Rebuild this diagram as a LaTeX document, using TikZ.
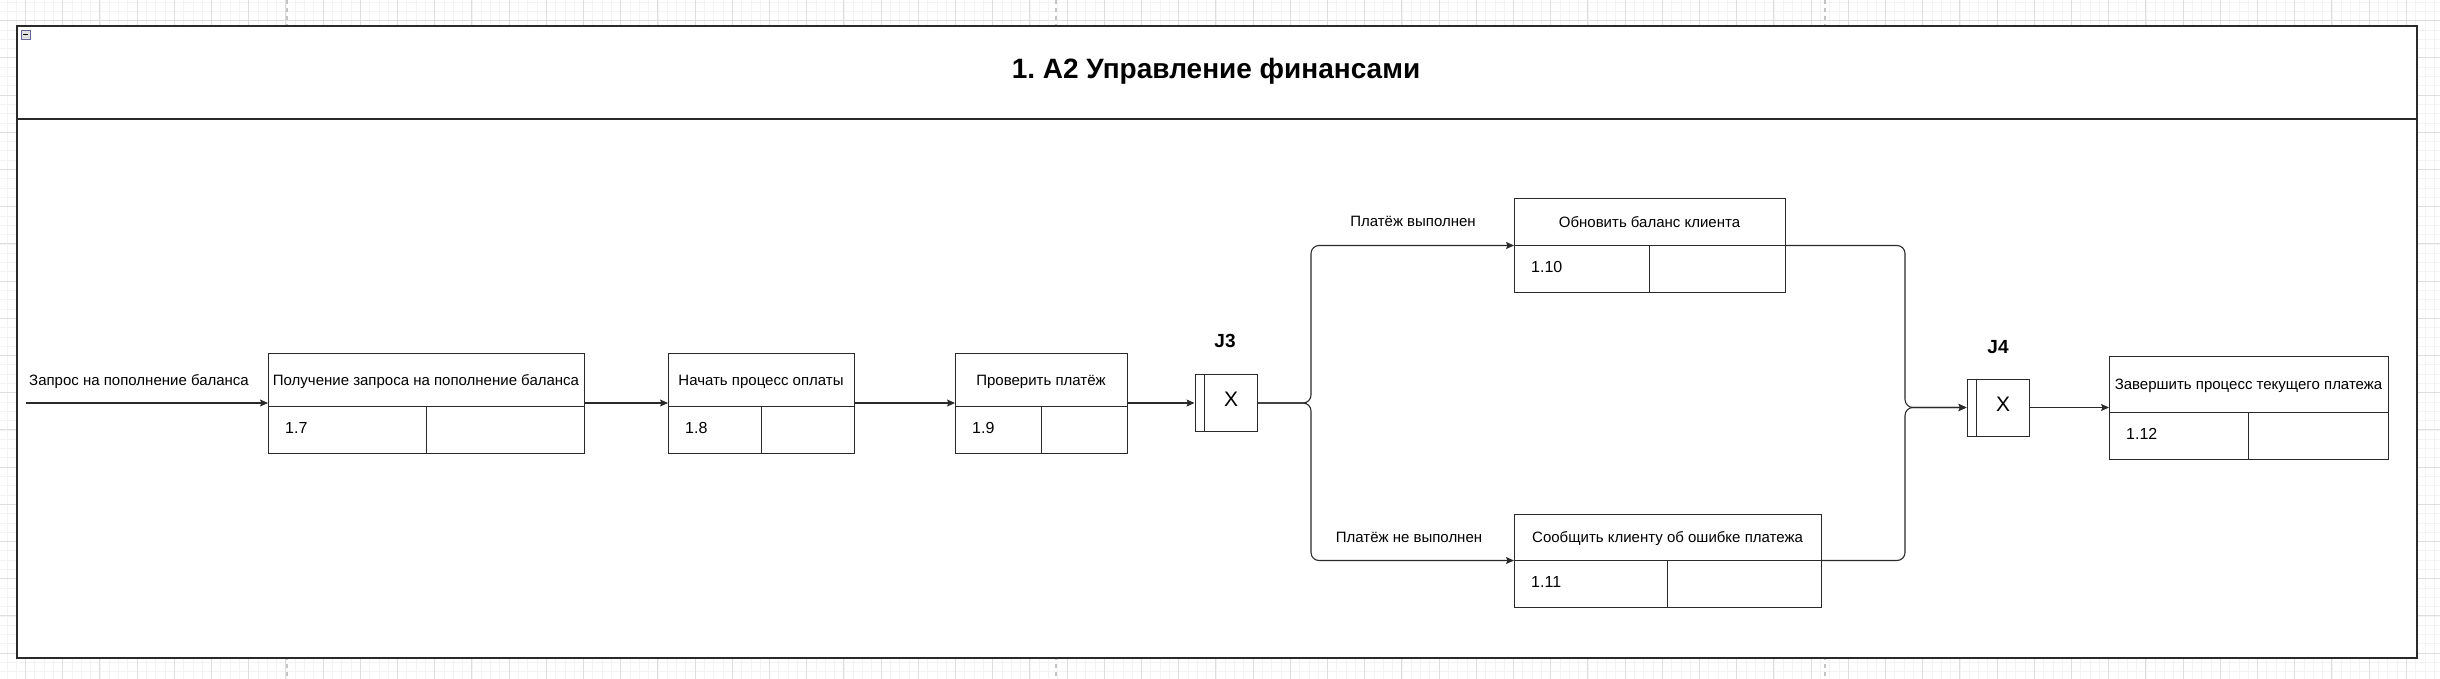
\documentclass[tikz,border=0pt]{standalone}
\usepackage{fontspec}
\setmainfont{Liberation Sans}
\usetikzlibrary{arrows.meta}
\definecolor{ink}{HTML}{2A2A2A}
\definecolor{gridmajor}{HTML}{DEDEDE}
\definecolor{gridminor}{HTML}{F3F3F3}
\definecolor{pagebreak}{HTML}{C4C4C4}
\frenchspacing
\tikzset{
  uob/.style={draw=ink, line width=1pt, fill=white, inner sep=0pt, outer sep=0pt, rectangle},
  uobline/.style={draw=ink, line width=1pt},
  txt/.style={inner sep=0pt, text height=0.716em, text depth=0pt, font=\fontsize{15}{18}\selectfont, text=black},
  num/.style={inner sep=0pt, text height=0.716em, text depth=0pt, font=\fontsize{16}{19}\selectfont, text=black},
  junction/.style={draw=ink, line width=1pt, fill=white, rectangle, inner sep=0pt, minimum width=62pt, minimum height=57pt},
  jlabel/.style={inner sep=0pt, text height=0.716em, text depth=0pt, font=\fontsize{19}{22}\selectfont\bfseries},
  xmark/.style={inner sep=0pt, text height=0.716em, text depth=0pt, font=\fontsize{21}{24}\selectfont},
  conn/.style={draw=ink, line width=1.1pt, -{Stealth[length=8pt,width=7pt,inset=1.5pt]}},
  framebox/.style={draw=ink, line width=1.3pt, fill=white, rectangle, inner sep=0pt, outer sep=0pt},
  minorgrid/.style={draw=gridminor, line width=0.8pt},
  majorgrid/.style={draw=gridmajor, line width=0.9pt},
}
\newcommand{\uobbox}[8]{%
  \node[uob, minimum width={(#4)-(#2)}, minimum height={(#5)-(#3)}, anchor=north west] (#1) at (#2,#3) {};
  \draw[uobline] (#2,#6) -- (#4,#6);
  \draw[uobline] ({(#2+#4)/2},#6) -- ({(#2+#4)/2},#5);
  \node[txt] (#1-t) at ({(#2+#4)/2},{(#3+#6)/2+2}) {#7};
  \node[num, anchor=west] (#1-n) at ({#2+17},{(#6+#5)/2}) {#8};
}
\begin{document}
\begin{tikzpicture}[x=1pt,y=-1pt]
\useasboundingbox (0,0) rectangle (2440,679);
\fill[white] (0,0) rectangle (2440,679);
% background grid
\foreach \i in {-1,...,262} {\draw[minorgrid] ({6.9+9.3*\i},0) -- ({6.9+9.3*\i},679);}
\foreach \j in {0,...,73} {\draw[minorgrid] (0,{2.1+9.3*\j}) -- (2440,{2.1+9.3*\j});}
\foreach \i in {0,...,65} {\draw[majorgrid] ({25.5+37.2*\i},0) -- ({25.5+37.2*\i},679);}
\foreach \j in {0,...,18} {\draw[majorgrid] (0,{20.7+37.2*\j}) -- (2440,{20.7+37.2*\j});}
% page breaks
\foreach \x in {287,1056,1825} {\draw[pagebreak, line width=1.6pt, dash pattern=on 4pt off 4pt] (\x,0) -- (\x,679);}
% frame
\node[framebox, minimum width=2400pt, minimum height=632pt, anchor=north west] (frame) at (17,26) {};
\draw[draw=ink, line width=1.3pt] (17,119) -- (2417,119);
\node[draw=gray!80!blue, fill=gray!25, line width=0.8pt, minimum size=9pt, inner sep=0pt] (collapse) at (25.5,34.5) {};
\draw[line width=1.6pt] ([xshift=-2.6pt]collapse.center) -- ([xshift=2.6pt]collapse.center);
\node[inner sep=0pt, text height=0.716em, text depth=0pt, font=\fontsize{28}{32}\selectfont\bfseries] (title) at (1216,75) {1. A2 Управление финансами};
% units of behaviour
\uobbox{b7}{268}{353}{584}{453}{406}{Получение запроса на пополнение баланса}{1.7}
\uobbox{b8}{668}{353}{854}{453}{406}{Начать процесс оплаты}{1.8}
\uobbox{b9}{955}{353}{1127}{453}{406}{Проверить платёж}{1.9}
\uobbox{b10}{1514}{199}{1785}{292}{245.5}{Обновить баланс клиента}{1.10}
\uobbox{b11}{1514}{514}{1821}{607}{560.5}{Сообщить клиенту об ошибке платежа}{1.11}
\uobbox{b12}{2109}{356}{2388}{459}{412}{Завершить процесс текущего платежа}{1.12}
% junctions
\node[junction] (j3) at (1226,403) {};
\draw[uobline] ([xshift=10pt]j3.north west) -- ([xshift=10pt]j3.south west);
\node[xmark] (j3x) at ([xshift=5pt]j3.center) {X};
\node[jlabel] (j3l) at (1225,344) {J3};
\node[junction] (j4) at (1998,407.5) {};
\draw[uobline] ([xshift=10pt]j4.north west) -- ([xshift=10pt]j4.south west);
\node[xmark] (j4x) at ([xshift=5pt]j4.center) {X};
\node[jlabel] (j4l) at (1998,349.5) {J4};
% connectors
\coordinate (src) at (26,403);
\node[txt, anchor=west] (inlabel) at (29,382) {Запрос на пополнение баланса};
\draw[conn] (src) -- (b7.west);
\draw[conn] (b7.east) -- (b8.west);
\draw[conn] (b8.east) -- (b9.west);
\draw[conn] (b9.east) -- (j3.west);
\coordinate (split) at (1311,403);
\coordinate (merge) at (1905,407.5);
\draw[conn, rounded corners=8pt] (j3.east) -- (split) |- (b10.west);
\draw[conn, rounded corners=8pt] (j3.east) -- (split) |- (b11.west);
\node[txt] (lyes) at (1413,223) {Платёж выполнен};
\node[txt] (lno) at (1409,539) {Платёж не выполнен};
\draw[conn, rounded corners=8pt] (b10.east) -| (merge) -- (j4.west);
\draw[conn, rounded corners=8pt] (b11.east) -| (merge) -- (j4.west);
\draw[conn] (j4.east) -- (b12.west);
\end{tikzpicture}
\end{document}
